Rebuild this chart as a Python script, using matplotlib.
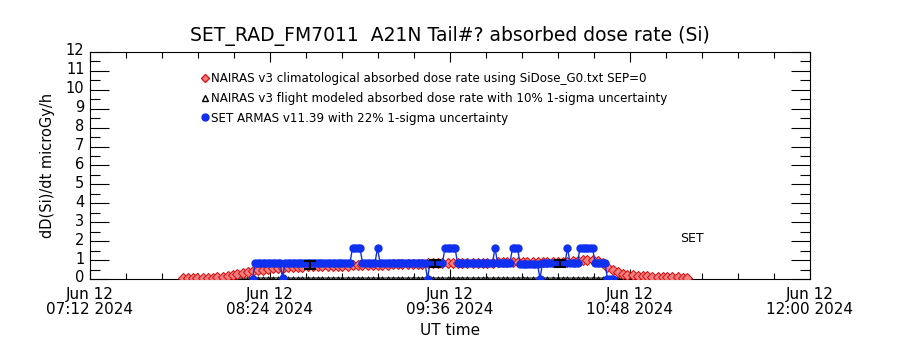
import matplotlib
matplotlib.use("Agg")
import matplotlib.pyplot as plt
import matplotlib.transforms as mtransforms
from matplotlib.ticker import MultipleLocator
from matplotlib.lines import Line2D
import pandas as pd

plt.rcParams['font.family'] = ['DejaVu Sans']

# ---------------- data ----------------
title = "SET_RAD_FM7011  A21N Tail#? absorbed dose rate (Si)"
x_start = "2024-06-12 07:12"
x_end = "2024-06-12 12:00"
x_tick_times = ["2024-06-12 07:12", "2024-06-12 08:24", "2024-06-12 09:36",
                "2024-06-12 10:48", "2024-06-12 12:00"]

# NAIRAS climatological (2-min cadence starting 07:49)
nairas_clim_start = "2024-06-12 07:49"
nairas_clim = [0.05, 0.05, 0.05, 0.05, 0.05, 0.06, 0.07, 0.09, 0.12, 0.17,
               0.22, 0.28, 0.33, 0.38, 0.43, 0.47, 0.50, 0.53, 0.56, 0.58,
               0.60, 0.62, 0.63, 0.64, 0.65, 0.66, 0.67, 0.68, 0.68, 0.69,
               0.70, 0.70, 0.71, 0.71, 0.72, 0.72, 0.73, 0.73, 0.74, 0.74,
               0.75, 0.76, 0.77, 0.78, 0.79, 0.80, 0.80, 0.81, 0.81, 0.82,
               0.82, 0.83, 0.84, 0.84, 0.85, 0.85, 0.85, 0.86, 0.86, 0.86,
               0.87, 0.87, 0.87, 0.88, 0.88, 0.88, 0.89, 0.89, 0.89, 0.90,
               0.90, 0.90, 0.90, 0.91, 0.91, 0.91, 0.92, 0.92, 0.93, 0.96,
               1.00, 1.02, 1.00, 0.95, 0.82, 0.65, 0.48, 0.36, 0.28, 0.23,
               0.20, 0.18, 0.16, 0.15, 0.13, 0.12, 0.11, 0.10, 0.09, 0.08,
               0.07, 0.06]

# NAIRAS flight modeled (same cadence)
nairas_flight = [0.04, 0.04, 0.04, 0.04, 0.04, 0.04, 0.04, 0.05, 0.05, 0.05,
                 0.05, 0.05, 0.05, 0.05, 0.05, 0.05, 0.05, 0.05, 0.05, 0.05,
                 0.05, 0.05, 0.05, 0.05, 0.05, 0.05, 0.05, 0.05, 0.05, 0.05,
                 0.05, 0.05, 0.05, 0.05, 0.05, 0.05, 0.05, 0.05, 0.05, 0.05,
                 0.05, 0.05, 0.05, 0.05, 0.05, 0.05, 0.05, 0.05, 0.05, 0.05,
                 0.05, 0.05, 0.05, 0.05, 0.05, 0.05, 0.05, 0.05, 0.05, 0.05,
                 0.05, 0.05, 0.05, 0.05, 0.05, 0.05, 0.05, 0.05, 0.05, 0.05,
                 0.05, 0.05, 0.05, 0.05, 0.05, 0.05, 0.05, 0.05, 0.05, 0.05,
                 0.05, 0.05, 0.05, 0.05, 0.05, 0.05, 0.05, 0.05, 0.04, 0.04,
                 0.04, 0.04, 0.04, 0.04, 0.04, 0.04, 0.04, 0.04, 0.04, 0.04,
                 0.04, 0.04]

# SET ARMAS (1-min cadence starting 08:17)
armas_start = "2024-06-12 08:17"
armas = [0.00,
         0.85, 0.85, 0.85, 0.85, 0.85, 0.85, 0.85, 0.85, 0.85, 0.85, 0.85,
         0.05,
         0.85, 0.85, 0.85, 0.85, 0.85, 0.85, 0.85, 0.85, 0.85, 0.85,
         0.85, 0.85, 0.85, 0.85, 0.85, 0.85, 0.85, 0.85, 0.85, 0.85,
         0.85, 0.85, 0.85, 0.85, 0.85, 0.85, 0.85,
         1.65, 1.65, 1.65, 1.65,
         0.85, 0.85, 0.85, 0.85, 0.85, 0.85,
         1.65,
         0.85, 0.85, 0.85, 0.85, 0.85, 0.85, 0.85, 0.85, 0.85, 0.85,
         0.85, 0.85, 0.85, 0.85, 0.85, 0.85, 0.85, 0.85, 0.85,
         0.00,
         0.85, 0.85, 0.85, 0.85, 0.85, 0.85,
         1.65, 1.65, 1.65, 1.65, 1.65,
         0.85, 0.85, 0.85, 0.85, 0.85, 0.85, 0.85, 0.85, 0.85, 0.85,
         0.85, 0.85, 0.85, 0.85, 0.85,
         1.65,
         0.85, 0.85, 0.85, 0.85, 0.85, 0.85,
         1.65, 1.65, 1.65,
         0.80, 0.80, 0.80, 0.80, 0.80, 0.80, 0.80, 0.80,
         0.00,
         0.85, 0.85, 0.85, 0.85, 0.85, 0.85, 0.85, 0.85, 0.85, 0.85,
         1.65,
         0.85, 0.85, 0.85, 0.85,
         1.65, 1.65, 1.65, 1.65, 1.65, 1.65,
         0.85, 0.85, 0.85, 0.85, 0.85,
         0.00, 0.00, 0.00]

# error bars
err_times = ["2024-06-12 08:40", "2024-06-12 09:30", "2024-06-12 10:20"]
err_vals = [0.75, 0.82, 0.82]
err_sig = [0.22, 0.18, 0.18]

legend_labels = [
    "NAIRAS v3 climatological absorbed dose rate using SiDose_G0.txt SEP=0",
    "NAIRAS v3 flight modeled absorbed dose rate with 10% 1-sigma uncertainty",
    "SET ARMAS v11.39 with 22% 1-sigma uncertainty",
]

# ---------------- plot ----------------
t_clim = pd.date_range(nairas_clim_start, periods=len(nairas_clim), freq="2min")
t_arm = pd.date_range(armas_start, periods=len(armas), freq="1min")

fig = plt.figure(figsize=(9, 3.5), dpi=100)
ax = fig.add_axes([0.1, 0.2029, 0.8, 0.6486])

ax.plot(t_clim, nairas_flight, color="black", lw=0.8, marker="^", ms=2.5,
        markerfacecolor="none", markeredgewidth=0.6, zorder=2)
ax.plot(t_clim, nairas_clim, color="#e02020", lw=0.8, marker="D", ms=4.6,
        markerfacecolor="#f08080", markeredgecolor="#d81818",
        markeredgewidth=0.8, zorder=3)
ax.plot(t_arm, armas, color="#1030e0", lw=1.0, marker="o", ms=5.0,
        markerfacecolor="#1030f0", markeredgecolor="#1030f0", zorder=4)
ax.errorbar(pd.to_datetime(err_times), err_vals, yerr=err_sig, fmt="none",
            ecolor="black", elinewidth=1.5, capsize=4.5, capthick=1.5, zorder=5)

ax.set_xlim(pd.Timestamp(x_start), pd.Timestamp(x_end))
ax.set_ylim(0, 12)

ticks = pd.to_datetime(x_tick_times)
ax.set_xticks(ticks)
ax.set_xticklabels([t.strftime("Jun %d\n%H:%M %Y") for t in ticks],
                   fontsize=11, linespacing=1.0)
minor_ticks = pd.date_range(x_start, x_end, freq="864s")
ax.set_xticks(minor_ticks, minor=True)

ax.yaxis.set_major_locator(MultipleLocator(1))
ax.yaxis.set_minor_locator(MultipleLocator(0.5))
ax.tick_params(axis="y", which="major", length=14, direction="in",
               left=True, right=True, labelsize=10.5, width=0.8, pad=4)
ax.tick_params(axis="y", which="minor", length=7, direction="in",
               left=True, right=True, width=0.8)
ax.tick_params(axis="x", which="major", length=7, direction="in",
               top=True, bottom=True, width=0.8, pad=6)
ax.tick_params(axis="x", which="minor", length=4, direction="in",
               top=True, bottom=True, width=0.8)
for s in ax.spines.values():
    s.set_linewidth(0.8)

# raise y tick labels slightly, as in the reference
offset = mtransforms.ScaledTranslation(0, 2.5 / 100, fig.dpi_scale_trans)
for lab in ax.get_yticklabels():
    lab.set_transform(lab.get_transform() + offset)

ax.set_title(title, fontsize=13.5, pad=8)
ax.set_ylabel("dD(Si)/dt microGy/h", fontsize=10.5, labelpad=8)
ax.set_xlabel("UT time", fontsize=11, labelpad=4)

handles = [
    Line2D([], [], ls="none", marker="D", ms=4, markerfacecolor="#f08080",
           markeredgecolor="#d81818"),
    Line2D([], [], ls="none", marker="^", ms=4, markerfacecolor="none",
           markeredgecolor="black"),
    Line2D([], [], ls="none", marker="o", ms=5, color="#1030f0"),
]
ax.legend(handles, legend_labels, loc="upper left",
          bbox_to_anchor=(0.155, 0.91), frameon=False, fontsize=8.6,
          handlelength=0.6, handletextpad=0.2, labelspacing=0.55,
          borderpad=0, borderaxespad=0)

ax.text(0.82, 0.18, "SET", transform=ax.transAxes, fontsize=9,
        ha="left", va="center")

fig.savefig("out.png", dpi=100)
